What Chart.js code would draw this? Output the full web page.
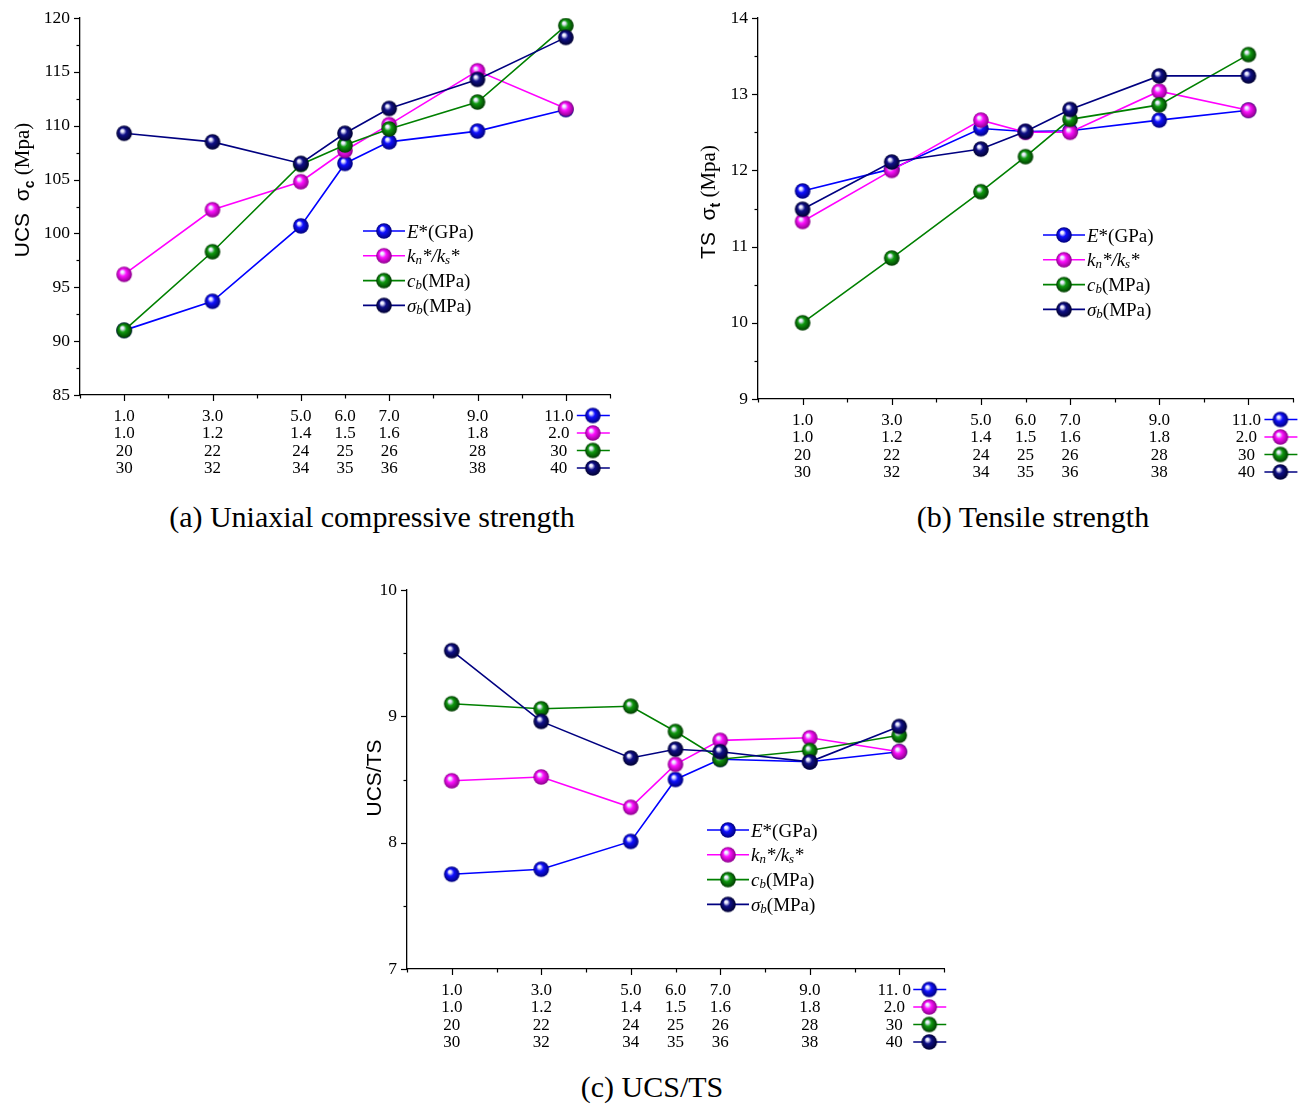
<!DOCTYPE html>
<html lang="en">
<head>
<meta charset="UTF-8">
<title>UCS and TS vs. micro-parameters</title>
<script src="https://cdn.jsdelivr.net/npm/chart.js"></script>
<style>
  body { margin: 0; background: #fff; width: 1304px; height: 1105px; position: relative; overflow: hidden; }
  .box { position: absolute; }
  .caption {
    position: absolute;
    font-family: "Liberation Serif", "Times New Roman", serif;
    font-size: 30px;
    line-height: 34px;
    color: #000;
    white-space: nowrap;
    transform: translateX(-50%);
  }
</style>
</head>
<body>
<div class="box" style="left:0;top:0"><canvas id="chartA" width="650" height="490"></canvas></div>
<div class="box" style="left:652px;top:0"><canvas id="chartB" width="652" height="490"></canvas></div>
<div class="box" style="left:330px;top:570px"><canvas id="chartC" width="640" height="490"></canvas></div>

<div class="caption" style="left:372px;top:500px">(a) Uniaxial compressive strength</div>
<div class="caption" style="left:1033px;top:500px">(b) Tensile strength</div>
<div class="caption" style="left:652px;top:1070px">(c) UCS/TS</div>

<script>
// x position of every point = E* value
const xE = [1, 3, 5, 6, 7, 9, 11];

// tick label rows under the x axis
const tickE   = ['1.0', '3.0', '5.0', '6.0', '7.0', '9.0', '11.0'];
const tickEc  = ['1.0', '3.0', '5.0', '6.0', '7.0', '9.0', '11. 0'];
const tickKn  = ['1.0', '1.2', '1.4', '1.5', '1.6', '1.8', '2.0'];
const tickCb  = ['20', '22', '24', '25', '26', '28', '30'];
const tickSb  = ['30', '32', '34', '35', '36', '38', '40'];

// (a) UCS
const ucsE  = [91.0, 93.7, 100.7, 106.5, 108.5, 109.5, 111.5];
const ucsKn = [96.2, 102.2, 104.8, 107.7, 110.1, 115.1, 111.6];
const ucsCb = [91.0, 98.3, 106.4, 108.2, 109.7, 112.2, 119.3];
const ucsSb = [109.3, 108.5, 106.5, 109.3, 111.6, 114.3, 118.2];

// (b) TS
const tsE  = [11.73, 12.02, 12.55, 12.51, 12.52, 12.66, 12.79];
const tsKn = [11.33, 12.00, 12.66, 12.50, 12.50, 13.04, 12.79];
const tsCb = [10.00, 10.85, 11.72, 12.18, 12.67, 12.86, 13.52];
const tsSb = [11.49, 12.11, 12.28, 12.51, 12.80, 13.24, 13.24];

// (c) UCS/TS
const ratioE  = [7.75, 7.79, 8.01, 8.50, 8.66, 8.64, 8.72];
const ratioKn = [8.49, 8.52, 8.28, 8.62, 8.81, 8.83, 8.72];
const ratioCb = [9.10, 9.06, 9.08, 8.88, 8.66, 8.73, 8.85];
const ratioSb = [9.52, 8.96, 8.67, 8.74, 8.72, 8.64, 8.92];

const colors = ['#0000ff', '#ff00ff', '#008000', '#000080'];
const bodies = ['#1010ff', '#ff10ff', '#109a10', '#101088'];
const edges  = ['#00007a', '#8a008a', '#003a00', '#000030'];

// legend text pieces: r = regular, i = italic, s = italic subscript
const legendParts = [
  [['E', 'i'], ['*(GPa)', 'r']],
  [['k', 'i'], ['n', 's'], ['*/', 'i'], ['k', 'i'], ['s', 's'], ['*', 'i']],
  [['c', 'i'], ['b', 's'], ['(MPa)', 'r']],
  [['σ', 'i'], ['b', 's'], ['(MPa)', 'r']]
];

function sphere(i, r) {
  const c = document.createElement('canvas');
  const s = Math.ceil(r * 2 + 2);
  c.width = s; c.height = s;
  const g = c.getContext('2d');
  const cx = s / 2, cy = s / 2;
  const grad = g.createRadialGradient(cx - r * 0.3, cy - r * 0.38, 0, cx, cy, r);
  grad.addColorStop(0, '#ffffff');
  grad.addColorStop(0.18, '#e8e8ff');
  grad.addColorStop(0.45, bodies[i]);
  grad.addColorStop(1, edges[i]);
  g.fillStyle = grad;
  g.beginPath();
  g.arc(cx, cy, r, 0, Math.PI * 2);
  g.fill();
  return c;
}
const balls = [0, 1, 2, 3].map(i => sphere(i, 7.8));

function drawRich(ctx, parts, x, y, size) {
  for (const [t, st] of parts) {
    const fs = st === 's' ? size * 0.68 : size;
    ctx.font = (st === 'r' ? '' : 'italic ') + fs + 'px "Liberation Serif", serif';
    ctx.fillText(t, x, y + (st === 's' ? size * 0.1 : 0));
    x += ctx.measureText(t).width;
  }
}

function drawYTitle(ctx, parts, x, y) {
  ctx.save();
  ctx.translate(x, y);
  ctx.rotate(-Math.PI / 2);
  ctx.textBaseline = 'alphabetic';
  ctx.textAlign = 'left';
  let w = 0;
  for (const p of parts) { ctx.font = p.font; w += ctx.measureText(p.t).width; }
  let px = -w / 2;
  for (const p of parts) {
    ctx.font = p.font;
    ctx.fillText(p.t, px, 7 + (p.dy || 0));
    px += ctx.measureText(p.t).width;
  }
  ctx.restore();
}

const decor = {
  id: 'decor',
  afterDraw(chart, args, o) {
    const ctx = chart.ctx;
    const xs = chart.scales.x, ys = chart.scales.y;
    const area = chart.chartArea;
    ctx.save();
    ctx.strokeStyle = '#000';
    ctx.lineWidth = 1.2;
    ctx.fillStyle = '#000';

    for (let v = xs.min; v <= xs.max; v++) {
      const px = Math.round(xs.getPixelForValue(v)) + 0.5;
      const len = v % 2 === 1 ? 6 : 3.5;
      ctx.beginPath(); ctx.moveTo(px, area.bottom); ctx.lineTo(px, area.bottom + len); ctx.stroke();
    }
    for (let v = ys.min; v <= ys.max + 1e-9; v += o.minor) {
      const py = Math.round(ys.getPixelForValue(v)) + 0.5;
      const q = v / o.major;
      const len = Math.abs(q - Math.round(q)) < 1e-6 ? 6 : 3.5;
      ctx.beginPath(); ctx.moveTo(area.left, py); ctx.lineTo(area.left - len, py); ctx.stroke();
    }

    // x label rows
    ctx.font = '17px "Liberation Serif", serif';
    ctx.textAlign = 'center';
    ctx.textBaseline = 'middle';
    const last = xE.length - 1;
    o.rows.forEach((row, r) => {
      const ry = area.bottom + 20.5 + r * 17.5;
      row.forEach((t, j) => {
        const px = xs.getPixelForValue(xE[j]) + (j === last ? o.lastShift : 0);
        ctx.fillText(t, px, ry + 1);
      });
      const mx = xs.getPixelForValue(xE[last]) + o.markShift;
      ctx.strokeStyle = colors[r];
      ctx.lineWidth = 1.6;
      ctx.beginPath(); ctx.moveTo(mx - 16, ry); ctx.lineTo(mx + 17, ry); ctx.stroke();
      ctx.drawImage(balls[r], mx - balls[r].width / 2, ry - balls[r].height / 2);
    });

    // legend
    ctx.textAlign = 'left';
    ctx.textBaseline = 'alphabetic';
    ctx.fillStyle = '#000';
    legendParts.forEach((parts, i) => {
      const ly = o.legend.y + i * 24.8;
      const lx = o.legend.x;
      ctx.strokeStyle = colors[i];
      ctx.lineWidth = 1.6;
      ctx.beginPath(); ctx.moveTo(lx, ly); ctx.lineTo(lx + 42, ly); ctx.stroke();
      ctx.drawImage(balls[i], lx + 21 - balls[i].width / 2, ly - balls[i].height / 2);
      drawRich(ctx, parts, lx + 44, ly + 6.5, 19);
    });

    ctx.fillStyle = '#000';
    drawYTitle(ctx, o.yTitle, o.yTitleX, o.yTitleY);
    ctx.restore();
  }
};

function makeChart(id, series, cfg) {
  const datasets = series.map((vals, i) => ({
    data: vals.map((v, j) => ({ x: xE[j], y: v })),
    borderColor: colors[i],
    borderWidth: 1.6,
    pointStyle: balls[i],
    pointRadius: 8,
    pointHoverRadius: 8,
    fill: false,
    tension: 0,
    order: 4 - i
  }));
  return new Chart(document.getElementById(id), {
    type: 'line',
    data: { datasets },
    plugins: [decor],
    options: {
      responsive: false,
      animation: false,
      events: [],
      layout: { padding: { top: cfg.top, right: cfg.right, left: 0, bottom: 0 } },
      plugins: {
        legend: { display: false },
        tooltip: { enabled: false },
        decor: cfg.decor
      },
      scales: {
        x: {
          type: 'linear', min: 0, max: 12,
          ticks: { display: false, stepSize: 1 },
          grid: { display: false },
          border: { display: true, color: '#000', width: 1.3 },
          afterFit: s => { s.height = cfg.xh; }
        },
        y: {
          type: 'linear', min: cfg.ymin, max: cfg.ymax,
          ticks: {
            stepSize: cfg.step, padding: 2, color: '#000',
            font: { family: '"Liberation Serif", serif', size: 17.5 }
          },
          grid: { display: false },
          border: { display: true, color: '#000', width: 1.3 },
          afterFit: s => { s.width = cfg.yw; }
        }
      }
    }
  });
}

const sans = '21px "Liberation Sans", Arial, sans-serif';
const serif = '21px "Liberation Serif", serif';
const subB = 'bold 14px "Liberation Sans", Arial, sans-serif';

makeChart('chartA', [ucsE, ucsKn, ucsCb, ucsSb], {
  top: 18, right: 40, xh: 95, yw: 80, ymin: 85, ymax: 120, step: 5,
  decor: {
    minor: 2.5, major: 5, lastShift: -7, markShift: 27,
    rows: [tickE, tickKn, tickCb, tickSb],
    legend: { x: 363, y: 231 },
    yTitleX: 22, yTitleY: 190,
    yTitle: [{ t: 'UCS  ', font: sans }, { t: 'σ', font: sans }, { t: 'c', font: subB, dy: 5 }, { t: ' (Mpa)', font: serif }]
  }
});

makeChart('chartB', [tsE, tsKn, tsCb, tsSb], {
  top: 18, right: 11, xh: 91, yw: 106, ymin: 9, ymax: 14, step: 1,
  decor: {
    minor: 0.5, major: 1, lastShift: -2, markShift: 32,
    rows: [tickE, tickKn, tickCb, tickSb],
    legend: { x: 391, y: 235 },
    yTitleX: 56, yTitleY: 202,
    yTitle: [{ t: 'TS  ', font: sans }, { t: 'σ', font: sans }, { t: 't', font: subB, dy: 5 }, { t: ' (Mpa)', font: serif }]
  }
});

makeChart('chartC', [ratioE, ratioKn, ratioCb, ratioSb], {
  top: 20, right: 26, xh: 91, yw: 77, ymin: 7, ymax: 10, step: 1,
  decor: {
    minor: 0.5, major: 1, lastShift: -5, markShift: 30,
    rows: [tickEc, tickKn, tickCb, tickSb],
    legend: { x: 377, y: 260 },
    yTitleX: 44, yTitleY: 208,
    yTitle: [{ t: 'UCS/TS', font: sans }]
  }
});
</script>
</body>
</html>
